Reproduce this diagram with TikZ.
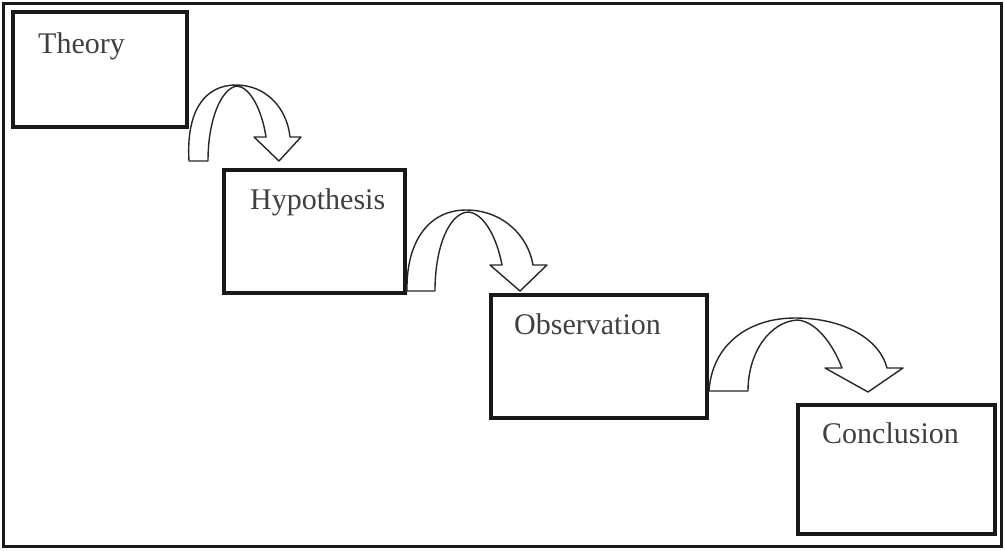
\documentclass[tikz,border=0pt]{standalone}
\usepackage{fontspec}
\setmainfont{Liberation Serif}
\begin{document}
\begin{tikzpicture}[x=1pt,y=-1pt,
  stagebox/.style={draw=black!90, line width=4pt, minimum width=#1, inner sep=0pt},
  stagetext/.style={anchor=base west, inner sep=0pt, text=black!75, font=\fontsize{30}{36}\selectfont},
  bentarrow/.style={draw=black!85, fill=white, line width=1.4pt, line join=round}]
\useasboundingbox (0,0) rectangle (1005,550);
\draw[line width=3pt, black!90] (3.5,3.5) rectangle (1001,546);

\node[stagebox=174pt, minimum height=115pt] (theory) at (100,69.5) {};
\node[stagebox=181pt, minimum height=123pt] (hypo) at (314.5,231.5) {};
\node[stagebox=216pt, minimum height=123pt] (obs) at (599,356.5) {};
\node[stagebox=197pt, minimum height=129pt] (concl) at (896.5,469.5) {};

\node[stagetext] (theoryT) at (38,53) {Theory};
\node[stagetext] (hypoT) at (250,209) {Hypothesis};
\node[stagetext] (obsT) at (514,334) {Observation};
\node[stagetext] (conclT) at (822,443) {Conclusion};

% arrow 1: theory -> hypothesis
\coordinate (a1s) at (theory.east |- 0,161);
\draw[bentarrow] (a1s) .. controls (186,112) and (204,85) .. (236,85)
  .. controls (266,85) and (287,108) .. (290,137)
  -- (301,137) -- (279,161) -- (254,137) -- (266,137)
  .. controls (262,110) and (250,87) .. (237,86)
  .. controls (222,88) and (208,118) .. (208,161) -- cycle;

% arrow 2: hypothesis -> observation
\coordinate (a2s) at (hypo.east |- 0,291);
\draw[bentarrow] (a2s) .. controls (406,240) and (430,210) .. (466,210)
  .. controls (502,210) and (528,235) .. (533,265)
  -- (547,265) -- (520,291) -- (490,265) -- (502,265)
  .. controls (497,238) and (484,213) .. (468,212)
  .. controls (450,213) and (435,245) .. (435,291) -- cycle;

% arrow 3: observation -> conclusion
\coordinate (a3s) at (obs.east |- 0,391);
\draw[bentarrow] (a3s) .. controls (712,345) and (748,318) .. (795,318)
  .. controls (845,318) and (880,340) .. (887,368)
  -- (903,368) -- (868,392) -- (825,368) -- (842,368)
  .. controls (832,342) and (815,321) .. (797,320)
  .. controls (770,322) and (748,352) .. (748,391) -- cycle;
\end{tikzpicture}
\end{document}
